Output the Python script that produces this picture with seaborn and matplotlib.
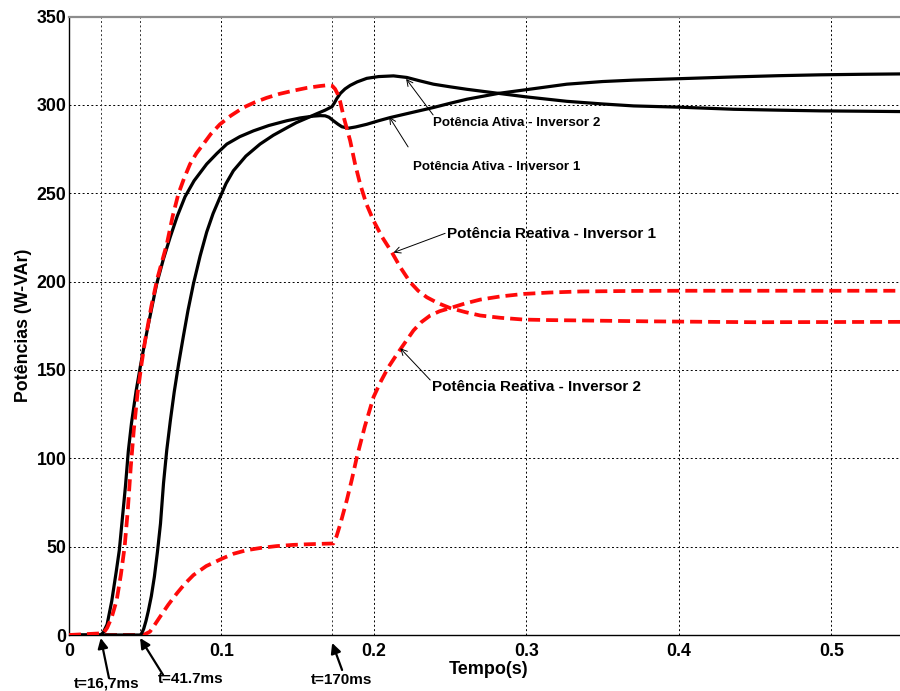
import numpy as np
import pandas as pd
import matplotlib
matplotlib.use("Agg")
import matplotlib.pyplot as plt
import seaborn as sns

# ---------------- data ----------------
t_p1 = [0, 0.0208, 0.0225, 0.025, 0.028, 0.031, 0.033, 0.035, 0.037, 0.0389,
        0.041, 0.044, 0.047, 0.0499, 0.054, 0.0575, 0.062, 0.0663, 0.071, 0.0761,
        0.082, 0.0903, 0.097, 0.1035, 0.112, 0.121, 0.131, 0.1428, 0.1516, 0.16,
        0.1647, 0.168, 0.1705, 0.1734, 0.1765, 0.179, 0.1833, 0.188, 0.1953, 0.203,
        0.2106, 0.225, 0.239, 0.25, 0.261, 0.2817, 0.30, 0.3265, 0.35, 0.3703,
        0.40, 0.436, 0.465, 0.4928, 0.52, 0.545]
p_ativa_inv1 = [0, 0, 1.5, 6, 19, 36, 48, 66, 84, 104,
                120, 138, 153, 166.5, 184, 198.7, 213, 225, 237, 248,
                257, 266.5, 272.5, 277.8, 282, 285.3, 288.3, 291, 292.6, 293.6,
                293.9, 293.8, 293, 291, 289, 287.6, 286.8, 287.5, 289, 291,
                292.8, 295.7, 298.5, 300.9, 303.2, 306.5, 308.6, 311.7, 313.2, 314,
                314.8, 315.8, 316.5, 317, 317.3, 317.5]

t_p2 = [0, 0.0468, 0.0477, 0.049, 0.0505, 0.052, 0.054, 0.056, 0.058, 0.06,
        0.062, 0.0641, 0.0665, 0.069, 0.072, 0.075, 0.078, 0.0816, 0.086,
        0.0903, 0.0945, 0.099, 0.103, 0.1078, 0.116, 0.1253, 0.134, 0.1428, 0.149,
        0.156, 0.162, 0.168, 0.1725, 0.174, 0.1756, 0.178, 0.181, 0.1844, 0.189,
        0.1953, 0.203, 0.2128, 0.2216, 0.23, 0.239, 0.25, 0.261, 0.2817, 0.30,
        0.3265, 0.35, 0.3703, 0.40, 0.436, 0.465, 0.4928, 0.52, 0.545]
p_ativa_inv2 = [0, 0, 1, 3.5, 8, 13.5, 22, 33, 47, 63,
                86, 104.5, 121.5, 137.5, 154, 169, 183.5, 198.7, 214.5,
                228, 238.5, 247.6, 255.5, 262.7, 271, 277.8, 282.8, 287, 289.9,
                292.5, 294.8, 297, 299, 301, 303.5, 306.5, 309, 311, 313,
                315, 316, 316.4, 315.5, 313.6, 311.7, 310.2, 308.8, 306.5, 304.5,
                302, 300.5, 299.4, 298.7, 297.5, 297, 296.6, 296.4, 296.2]

t_q1 = [0, 0.0225, 0.025, 0.028, 0.0313, 0.034, 0.0365, 0.0385, 0.0405, 0.0425,
        0.045, 0.0475, 0.0499, 0.054, 0.058, 0.0641, 0.068, 0.0717, 0.0755, 0.0794,
        0.0835, 0.0881, 0.093, 0.099, 0.106, 0.1144, 0.122, 0.1297, 0.138, 0.147,
        0.156, 0.165, 0.1705, 0.1726, 0.1745, 0.176, 0.1778, 0.1805, 0.1844, 0.1875,
        0.191, 0.195, 0.1997, 0.2055, 0.2117, 0.2175, 0.2238, 0.229, 0.2347, 0.242,
        0.25, 0.26, 0.2697, 0.283, 0.2981, 0.315, 0.3353, 0.38, 0.45, 0.545]
q_reativa_inv1 = [0, 1, 4, 10, 19.8, 34, 50, 70, 95, 116,
                  137, 153, 166.5, 186, 202, 221, 237, 249.5, 258.5, 266.5,
                  272.5, 277.8, 283.5, 289, 293.8, 298.5, 301.5, 304, 306.2, 308,
                  309.6, 310.7, 311.2, 310.8, 309, 306.5, 302, 292, 279.7, 267,
                  255, 244, 234.5, 225, 216.6, 207.8, 199.6, 194.8, 191.1, 187.8,
                  185, 182.7, 180.8, 179.5, 178.5, 178.2, 178, 177.5, 177, 177.2]

t_q2 = [0, 0.0488, 0.0531, 0.056, 0.0597, 0.065, 0.0707, 0.076, 0.0816, 0.09,
        0.1006, 0.108, 0.1165, 0.126, 0.136, 0.147, 0.1581, 0.1734, 0.1755, 0.178,
        0.1822, 0.1855, 0.1888, 0.194, 0.1997, 0.2045, 0.2095, 0.214, 0.2183, 0.2259,
        0.231, 0.2369, 0.243, 0.25, 0.2597, 0.2697, 0.283, 0.2981, 0.315, 0.3353,
        0.37, 0.40, 0.545]
q_reativa_inv2 = [0, 0, 1.9, 5.5, 10.3, 17, 23.5, 29, 33.9, 39,
                  43.3, 46, 48, 49.3, 50.3, 51, 51.4, 51.8, 56, 63,
                  76.3, 88, 100.7, 118, 134.6, 143.5, 151.6, 157.5, 162.9, 172.3,
                  177, 180.8, 183.2, 185, 187.6, 189.8, 191.6, 193, 193.8, 194.4,
                  194.7, 194.8, 194.8]

event_times = [0.0208, 0.0468, 0.1726]
event_labels = ["t=16,7ms", "t=41.7ms", "t=170ms"]

x_ticks = [0, 0.1, 0.2, 0.3, 0.4, 0.5]
x_ticklabels = ["0", "0.1", "0.2", "0.3", "0.4", "0.5"]
y_ticks = [0, 50, 100, 150, 200, 250, 300, 350]

# ---------------- style ----------------
sns.set_theme(style="white")
plt.rcParams['font.family'] = ['Liberation Sans', 'DejaVu Sans']
plt.rcParams['font.weight'] = 'bold'
plt.rcParams['axes.labelweight'] = 'bold'

fig = plt.figure(figsize=(9, 6.91), dpi=100)
ax = fig.add_axes([69 / 900, 56 / 691, 831 / 900, 618.5 / 691])

black_kw = dict(color='black', linewidth=2.3, estimator=None, sort=False, legend=False)
red_kw = dict(color='#ff0a0a', linewidth=2.7, linestyle=(0, (3.2, 1.6)),
              dash_capstyle='butt', estimator=None, sort=False, legend=False)

sns.lineplot(x=t_q2, y=q_reativa_inv2, ax=ax, zorder=3, **red_kw)
sns.lineplot(x=t_p2, y=p_ativa_inv2, ax=ax, zorder=4, **black_kw)
sns.lineplot(x=t_p1, y=p_ativa_inv1, ax=ax, zorder=5, **black_kw)
sns.lineplot(x=t_q1, y=q_reativa_inv1, ax=ax, zorder=6, **red_kw)

ax.set_xlim(0, 0.545)
ax.set_ylim(0, 350)
ax.set_xticks(x_ticks)
ax.set_xticklabels(x_ticklabels)
ax.set_yticks(y_ticks)

grid_ls = (0, (2, 2.5))
ax.grid(True, color='black', linestyle=grid_ls, linewidth=0.7)
for et in event_times:
    ax.axvline(et, color='#333333', linestyle=grid_ls, linewidth=0.7, zorder=1)

ax.tick_params(axis='both', direction='in', length=4, width=0.8, labelsize=12.8,
               colors='black')
ax.tick_params(axis='x', pad=5.5)
ax.tick_params(axis='y', pad=1.8)
for lab in ax.get_xticklabels() + ax.get_yticklabels():
    lab.set_fontweight('bold')

for s in ['left', 'bottom']:
    ax.spines[s].set_color('black')
    ax.spines[s].set_linewidth(1.0)
ax.spines['top'].set_color('#8c8c8c')
ax.spines['top'].set_linewidth(1.6)
ax.spines['right'].set_visible(False)

ax.set_xlabel("Tempo(s)", fontsize=13, fontweight='bold', color='black')
ax.set_ylabel("Potências (W-VAr)", fontsize=12.8, fontweight='bold', color='black')
ax.xaxis.set_label_coords(0.505, -0.042)
ax.yaxis.set_label_coords(-0.0445, 0.5)

# ---------------- curve annotations ----------------
thin = dict(arrowstyle='->', color='black', lw=0.7, shrinkA=0, shrinkB=0,
            mutation_scale=11)
ann = [
    ("Potência Ativa - Inversor 2", (0.2388, 290.0), (0.2388, 294.3), (0.2211, 314.7), 9.6),
    ("Potência Ativa - Inversor 1", (0.2259, 265.0), (0.2224, 276.2), (0.2100, 293.2), 9.6),
    ("Potência Reativa - Inversor 1", (0.2478, 226.9), (0.2467, 227.3), (0.2128, 216.4), 11.0),
    ("Potência Reativa - Inversor 2", (0.2380, 140.5), (0.2369, 144.3), (0.2172, 162.3), 11.0),
]
for txt, pos, tail, tip, fs in ann:
    ax.text(pos[0], pos[1], txt, ha='left', va='center', fontsize=fs,
            fontweight='bold', color='black', zorder=10)
    ax.annotate('', xy=tip, xytext=tail, arrowprops=thin, zorder=10)

# ---------------- event annotations below the axis ----------------
thick = dict(arrowstyle='-|>,head_length=0.6,head_width=0.3', color='black',
             lw=1.6, shrinkA=0, shrinkB=0, mutation_scale=10)
ev_text = [(0.0249, -27.2), (0.0800, -24.9), (0.1785, -25.5)]
ev_tail = [(0.0262, -24.3), (0.0617, -22.6), (0.1791, -19.8)]
ev_tip = [(0.0208, -1.7), (0.0466, -1.7), (0.1726, -4.5)]
for lab, tp, tl, tip in zip(event_labels, ev_text, ev_tail, ev_tip):
    ax.text(tp[0], tp[1], lab, ha='center', va='center', fontsize=11,
            fontweight='bold', color='black', clip_on=False)
    ax.annotate('', xy=tip, xytext=tl, arrowprops=thick, annotation_clip=False)

fig.savefig("out.png", dpi=100, facecolor='white')
